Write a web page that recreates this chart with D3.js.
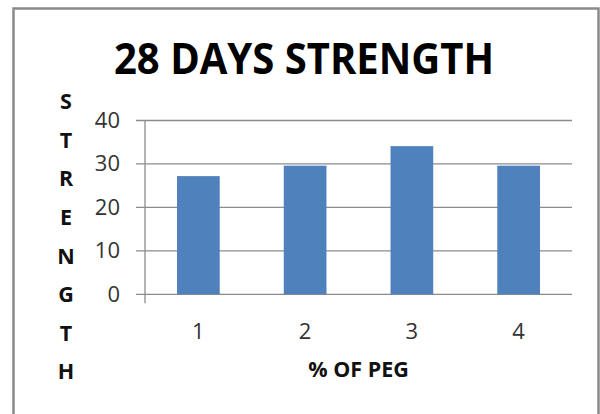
<!DOCTYPE html>
<html>
<head>
<meta charset="utf-8">
<script src="https://cdn.jsdelivr.net/npm/d3@7"></script>
<style>
  html, body { margin: 0; padding: 0; background: #fff; }
  svg { display: block; }
</style>
</head>
<body>
<svg id="chart" width="600" height="414"></svg>
<script>
// 28-day strength for each PEG dosage
const categories = ["1", "2", "3", "4"];
const strength = [27.2, 29.6, 34.1, 29.6];
const yTicks = [0, 10, 20, 30, 40];
const title = "28 DAYS STRENGTH";
const xTitle = "% OF PEG";
const yTitle = "STRENGTH";

const svg = d3.select("#chart");
const font = "'Open Sans', 'DejaVu Sans', sans-serif";

// outer frame
svg.append("rect")
  .attr("x", 13.5).attr("y", 8.5)
  .attr("width", 585).attr("height", 500)
  .attr("fill", "#fff")
  .attr("stroke", "#8a8a8a")
  .attr("stroke-width", 2.5);

const plot = { left: 145, right: 572, top: 120.5, bottom: 294.3 };

const x = d3.scaleBand()
  .domain(categories)
  .range([plot.left, plot.right])
  .paddingInner(0.6)
  .paddingOuter(0.3);

const y = d3.scaleLinear()
  .domain([0, 40])
  .range([plot.bottom, plot.top]);

// horizontal gridlines
svg.append("g")
  .selectAll("line")
  .data(yTicks)
  .join("line")
  .attr("x1", plot.left - 9)
  .attr("x2", plot.right)
  .attr("y1", d => y(d))
  .attr("y2", d => y(d))
  .attr("stroke", "#8c8c8c")
  .attr("stroke-width", 1.3);

// bars
svg.append("g")
  .selectAll("rect")
  .data(strength)
  .join("rect")
  .attr("x", (d, i) => x(categories[i]))
  .attr("y", d => y(d))
  .attr("width", x.bandwidth())
  .attr("height", d => y(0) - y(d))
  .attr("fill", "#4f81bd");

// value axis
const yAxis = svg.append("g")
  .attr("transform", `translate(${plot.left},0)`)
  .call(d3.axisLeft(y).tickValues(yTicks).tickSize(9).tickPadding(16));
yAxis.select(".domain").remove();
yAxis.selectAll(".tick line").remove();
yAxis.selectAll("text")
  .attr("font-family", font)
  .attr("font-size", 22)
  .attr("fill", "#333");

// vertical axis line, extending a little below zero
svg.append("line")
  .attr("x1", plot.left).attr("x2", plot.left)
  .attr("y1", plot.top).attr("y2", plot.bottom + 9)
  .attr("stroke", "#8c8c8c")
  .attr("stroke-width", 1.3);

// category axis
const xAxis = svg.append("g")
  .attr("transform", `translate(0,${plot.bottom})`)
  .call(d3.axisBottom(x).tickSize(0));
xAxis.select(".domain").remove();
xAxis.selectAll("text")
  .attr("y", 45)
  .attr("dy", null)
  .attr("font-family", font)
  .attr("font-size", 22)
  .attr("fill", "#333");

// chart title
svg.append("text")
  .attr("x", 304)
  .attr("y", 74)
  .attr("text-anchor", "middle")
  .attr("font-family", font)
  .attr("font-weight", 700)
  .attr("font-size", 43)
  .attr("textLength", 380)
  .attr("lengthAdjust", "spacingAndGlyphs")
  .attr("fill", "#000")
  .text(title);

// category axis title
svg.append("text")
  .attr("x", (plot.left + plot.right) / 2)
  .attr("y", 377)
  .attr("text-anchor", "middle")
  .attr("font-family", font)
  .attr("font-weight", 700)
  .attr("font-size", 21.5)
  .attr("fill", "#111")
  .text(xTitle);

// value axis title, stacked one letter per line
svg.append("g")
  .selectAll("text")
  .data(yTitle.split(""))
  .join("text")
  .attr("x", 66)
  .attr("y", (d, i) => 101.5 + i * 38.6 + 7.7)
  .attr("text-anchor", "middle")
  .attr("font-family", font)
  .attr("font-weight", 700)
  .attr("font-size", 21.5)
  .attr("fill", "#111")
  .text(d => d);
</script>
</body>
</html>
